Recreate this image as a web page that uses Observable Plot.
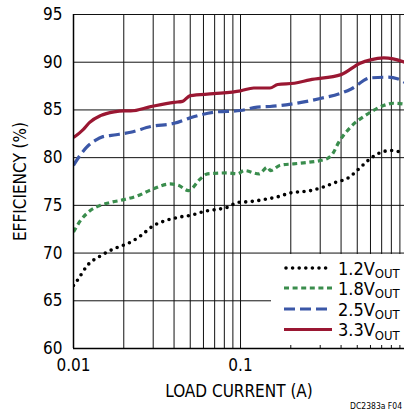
<!DOCTYPE html>
<html><head><meta charset="utf-8">
<script src="https://cdn.jsdelivr.net/npm/d3@7"></script>
<script src="https://cdn.jsdelivr.net/npm/@observablehq/plot@0.6"></script>
<style>
html,body{margin:0;padding:0;background:#fff;overflow:hidden;}
#wrap{position:relative;width:404px;height:413px;overflow:hidden;font-family:"Liberation Sans Narrow","Arial Narrow","DejaVu Sans Condensed",sans-serif;}
#legend{position:absolute;left:271px;top:254px;width:140px;height:91px;background:#fff;}
#note{position:absolute;right:2px;top:401px;font-size:8.5px;white-space:nowrap;font-family:"DejaVu Sans Condensed","Liberation Sans",Arial,sans-serif;color:#000;}
</style></head><body><div id="wrap"></div>
<script>
// ---- data ----
const seriesNames = ["1.2", "1.8", "2.5", "3.3"];
const seriesColors = ["#000000", "#3a8d4d", "#3b57a7", "#9a1732"];
const seriesDash = ["0 6.6", "5 3.6", "11 5", null];

const i12 = [0.01,0.0106,0.0121,0.0145,0.0183,0.0211,0.0252,0.0297,0.0355,0.0425,0.0516,0.0617,0.074,0.0835,0.096,0.115,0.137,0.167,0.199,0.263,0.311,0.37,0.444,0.502,0.58,0.663,0.795,0.912,0.96];
const e12 = [66.6,67.2,68.7,69.7,70.6,71.0,71.8,72.8,73.4,73.75,74.0,74.4,74.6,74.8,75.3,75.4,75.6,75.9,76.3,76.55,76.9,77.4,77.9,78.7,79.7,80.4,80.75,80.6,80.55];

const i18 = [0.01,0.011,0.0126,0.0145,0.0166,0.02,0.0242,0.0289,0.038,0.0425,0.0488,0.0576,0.0634,0.0835,0.096,0.105,0.129,0.145,0.151,0.173,0.208,0.252,0.331,0.356,0.387,0.456,0.58,0.718,0.824,0.96];
const e18 = [72.2,73.4,74.45,75.0,75.3,75.6,76.0,76.6,77.25,77.1,76.55,77.8,78.3,78.4,78.3,78.65,78.3,79.0,78.65,79.2,79.35,79.5,79.9,80.4,81.6,83.2,84.6,85.46,85.7,85.6];

const i25 = [0.01,0.011,0.012,0.0135,0.015,0.018,0.022,0.029,0.04,0.05,0.069,0.1,0.126,0.15,0.2,0.3,0.4,0.46,0.6,0.76,0.87,0.96];
const e25 = [79.2,80.3,81.1,81.8,82.2,82.4,82.66,83.26,83.6,84.17,84.76,84.94,85.3,85.36,85.6,86.2,86.75,87.2,88.36,88.43,88.26,87.9];

const i33 = [0.01,0.0115,0.0125,0.0145,0.0175,0.02,0.022,0.029,0.04,0.045,0.05,0.069,0.1,0.12,0.15,0.167,0.21,0.26,0.4,0.52,0.6,0.72,0.82,0.96];
const e33 = [82.1,83.0,83.7,84.4,84.8,84.9,84.9,85.35,85.8,85.9,86.5,86.7,87.0,87.3,87.3,87.66,87.8,88.15,88.7,89.9,90.25,90.45,90.35,90.0];

const xTicks = [0.01, 0.1];
const xTickLabels = ["0.01", "0.1"];
const yTicks = [60, 65, 70, 75, 80, 85, 90, 95];
const xGrid = [0.02,0.03,0.04,0.05,0.06,0.07,0.08,0.09,0.1,0.2,0.3,0.4,0.5,0.6,0.7,0.8,0.9];
const yGrid = [65, 70, 75, 80, 85, 90, 95];

const xs = [i12, i18, i25, i33];
const ys = [e12, e18, e25, e33];
const tables = xs.map((arr, k) => arr.map((x, j) => ({x, y: ys[k][j]})));

const chart = Plot.plot({
  width: 404, height: 413,
  marginTop: 14, marginBottom: 65, marginLeft: 73, marginRight: 0,
  style: {fontFamily: '"Liberation Sans Narrow","Arial Narrow","DejaVu Sans Condensed",sans-serif', fontSize: "17px", color: "#000", background: "transparent"},
  x: {type: "log", domain: [0.01, 0.959]},
  y: {domain: [60, 95]},
  marks: [
    Plot.ruleX(xGrid, {stroke: "#111", strokeWidth: 1}),
    Plot.ruleY(yGrid, {stroke: "#111", strokeWidth: 1}),
    ...tables.map((t, k) => Plot.line(t, {
      x: "x", y: "y", stroke: seriesColors[k], strokeWidth: k === 0 ? 3.6 : 3.2,
      strokeDasharray: seriesDash[k], strokeLinecap: k === 0 ? "round" : "butt",
      curve: "monotone-x", clip: true
    })),
    Plot.ruleX([0.01], {stroke: "#000", strokeWidth: 1.5}),
    Plot.ruleY([60], {stroke: "#000", strokeWidth: 1.5}),
    Plot.axisX(xTicks, {tickSize: 0, tickPadding: 10, tickFormat: (d) => xTickLabels[xTicks.indexOf(d)],
      label: "LOAD CURRENT (A)", labelAnchor: "center", labelOffset: 48, labelArrow: "none"}),
    Plot.axisY(yTicks, {tickSize: 0, tickPadding: 11,
      label: "EFFICIENCY (%)", labelAnchor: "center", labelOffset: 60, labelArrow: "none"})
  ]
});
chart.style.position = "absolute";
chart.style.left = "0px";
chart.style.top = "0px";
const wrap = document.getElementById("wrap");
wrap.appendChild(chart);

// legend
const leg = document.createElement("div");
leg.id = "legend";
wrap.appendChild(leg);
const svg = d3.select(leg).append("svg").attr("width", 140).attr("height", 91)
  .style("font-family", '"Liberation Sans Narrow","Arial Narrow","DejaVu Sans Condensed",sans-serif');
const rowY = [14, 34, 55, 75.5];
seriesNames.forEach((name, k) => {
  const g = svg.append("g").attr("transform", `translate(0,${rowY[k]})`);
  g.append("line").attr("x1", k === 0 ? 15 : 13).attr("x2", 61).attr("y1", 0).attr("y2", 0)
    .attr("stroke", seriesColors[k]).attr("stroke-width", k === 0 ? 3.6 : 3.2)
    .attr("stroke-dasharray", seriesDash[k]).attr("stroke-linecap", k === 0 ? "round" : "butt");
  const t = g.append("text").attr("x", 67).attr("y", 6.5).attr("font-size", 18).attr("fill", "#000");
  t.append("tspan").text(name + "V");
  t.append("tspan").attr("font-size", 13).attr("dy", 3.5).text("OUT");
});

const note = document.createElement("div");
note.id = "note";
note.textContent = "DC2383a F04";
wrap.appendChild(note);
</script>
</body></html>
